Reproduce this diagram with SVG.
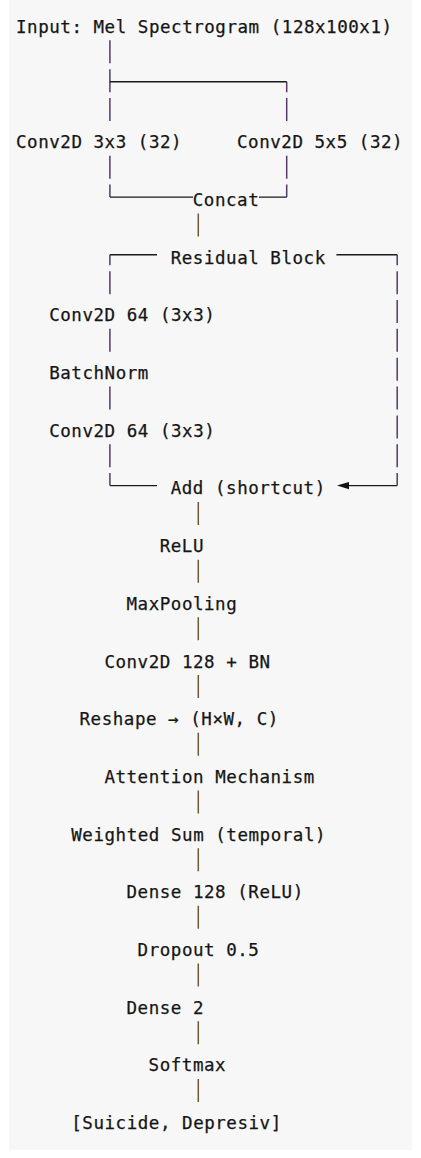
<svg xmlns="http://www.w3.org/2000/svg" width="421" height="1158" viewBox="0 0 421 1158">
<style>
  .t { font-family: "DejaVu Sans Mono", "Liberation Mono", monospace; font-size: 17.5px; letter-spacing: 0.54px; fill: #151515; stroke: #151515; stroke-width: 0.25px; }
  .side { fill: none; stroke: #553a6a; stroke-width: 1.5; }
  .mid { fill: none; stroke: #6b5a38; stroke-width: 1.5; }
  .h { fill: none; stroke: #1a1a1a; stroke-width: 1.4; }
</style>
<rect x="0" y="0" width="421" height="1158" fill="#ffffff"/>
<rect x="9" y="0" width="403" height="1150" fill="#f7f7f7"/>

<g id="connectors">
  <path class="side" d="M109.9 40.35V63.35M109.9 69.2V92.2M109.9 98.05V121.05M109.9 155.75V178.75M109.9 184.6V197.1M109.9 254.8V265.3M109.9 271.15V294.15M109.9 328.85V351.85M109.9 386.55V409.55M109.9 444.25V467.25M109.9 473.1V485.6"/>
  <path class="side" d="M286.7 81.7V92.2M286.7 98.05V121.05M286.7 155.75V178.75M286.7 184.6V197.1"/>
  <path class="side" d="M397.2 254.8V265.3M397.2 271.15V294.15M397.2 300V323M397.2 328.85V351.85M397.2 357.7V380.7M397.2 386.55V409.55M397.2 415.4V438.4M397.2 444.25V467.25M397.2 473.1V485.6"/>
  <path class="mid" d="M198.3 213.45V236.45M198.3 501.95V524.95M198.3 559.65V582.65M198.3 617.35V640.35M198.3 675.05V698.05M198.3 732.75V755.75M198.3 790.45V813.45M198.3 848.15V871.15M198.3 905.85V928.85M198.3 963.55V986.55M198.3 1021.25V1044.25M198.3 1078.95V1101.95"/>
  <path class="h" d="M109.9 81.7H286.7M109.9 197.1H193M259 197.1H286.7M109.9 254.8H157M336.4 254.8H397.2M109.9 485.6H157M349 485.6H397.2"/>
  <polygon points="337,485.6 349,481.9 349,489.3" fill="#111"/>
</g>

<g id="input"><text class="t" x="16" y="32.8">Input: Mel Spectrogram (128x100x1)</text></g>
<g id="conv3x3"><text class="t" x="16" y="148.2">Conv2D 3x3 (32)</text></g>
<g id="conv5x5"><text class="t" x="237" y="148.2">Conv2D 5x5 (32)</text></g>
<g id="concat"><text class="t" x="192.8" y="205.9">Concat</text></g>
<g id="residual-block"><text class="t" x="170.7" y="263.6">Residual Block</text></g>
<g id="conv64a"><text class="t" x="49.2" y="321.3">Conv2D 64 (3x3)</text></g>
<g id="batchnorm"><text class="t" x="49.2" y="379">BatchNorm</text></g>
<g id="conv64b"><text class="t" x="49.2" y="436.7">Conv2D 64 (3x3)</text></g>
<g id="add"><text class="t" x="170.7" y="494.4">Add (shortcut)</text></g>
<g id="relu"><text class="t" x="159.7" y="552.1">ReLU</text></g>
<g id="maxpool"><text class="t" x="126.5" y="609.8">MaxPooling</text></g>
<g id="conv128"><text class="t" x="104.4" y="667.5">Conv2D 128 + BN</text></g>
<g id="reshape"><text class="t" x="79.5" y="725.2">Reshape → (H×W, C)</text></g>
<g id="attention"><text class="t" x="104.4" y="782.9">Attention Mechanism</text></g>
<g id="weighted-sum"><text class="t" x="71.3" y="840.6">Weighted Sum (temporal)</text></g>
<g id="dense128"><text class="t" x="126.5" y="898.3">Dense 128 (ReLU)</text></g>
<g id="dropout"><text class="t" x="137.6" y="956">Dropout 0.5</text></g>
<g id="dense2"><text class="t" x="126.5" y="1013.7">Dense 2</text></g>
<g id="softmax"><text class="t" x="148.6" y="1071.4">Softmax</text></g>
<g id="output"><text class="t" x="71.3" y="1129.1">[Suicide, Depresiv]</text></g>
</svg>
